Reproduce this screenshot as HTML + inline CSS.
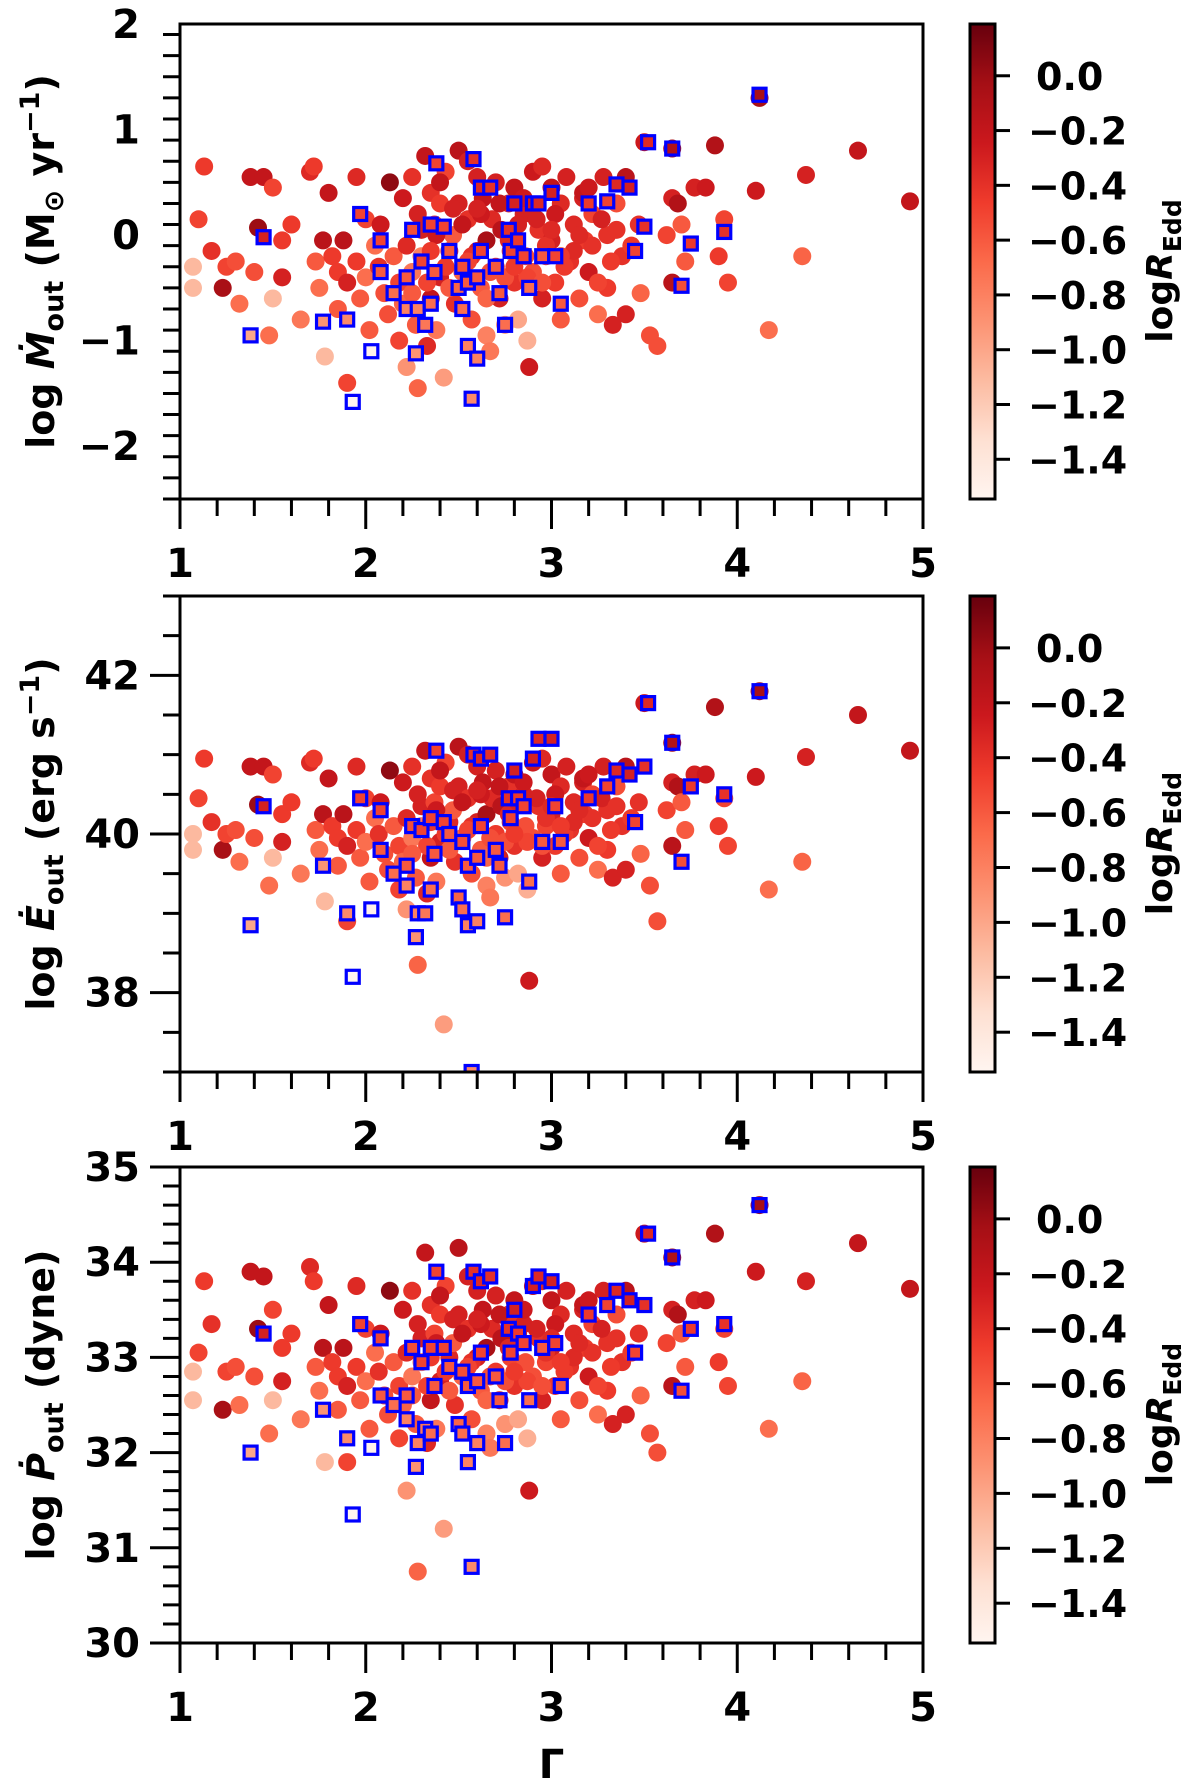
<!DOCTYPE html>
<html><head><meta charset="utf-8">
<style>
html,body{margin:0;padding:0;background:#fff;}
svg{display:block;font-family:"DejaVu Sans","Liberation Sans",sans-serif;}
</style></head>
<body>
<svg id="fig" width="1200" height="1784" viewBox="0 0 1200 1784" xmlns="http://www.w3.org/2000/svg"></svg>
<script>
// ---- data ----
const circGamma=[1.07,1.07,1.1,1.13,1.17,1.23,1.25,1.3,1.32,1.38,1.4,1.42,1.45,1.48,1.5,1.5,1.55,1.55,1.6,1.65,1.7,1.72,1.73,1.75,1.77,1.78,1.8,1.82,1.85,1.85,1.88,1.9,1.9,1.95,1.95,1.97,2.0,2.0,2.02,2.05,2.07,2.08,2.1,2.12,2.13,2.15,2.18,2.18,2.2,2.2,2.22,2.25,2.25,2.27,2.28,2.3,2.3,2.32,2.33,2.35,2.35,2.37,2.38,2.4,2.4,2.42,2.43,2.45,2.47,2.48,2.5,2.5,2.52,2.55,2.55,2.57,2.6,2.6,2.62,2.63,2.65,2.65,2.67,2.68,2.7,2.7,2.72,2.73,2.75,2.77,2.78,2.8,2.8,2.82,2.85,2.86,2.87,2.88,2.9,2.9,2.93,2.95,2.95,2.97,3.0,3.0,3.02,3.05,3.05,3.08,3.1,3.12,3.15,3.17,3.18,3.2,3.22,3.25,3.28,3.3,3.3,3.33,3.35,3.38,3.4,3.4,3.43,3.47,3.48,3.53,3.57,3.62,3.65,3.65,3.68,3.7,3.72,3.77,3.83,3.88,3.9,3.93,3.95,4.1,4.12,4.17,4.35,4.37,4.65,4.93,3.65,3.5,
2.22,2.28,2.33,2.38,2.43,2.47,2.52,2.57,2.62,2.67,2.72,2.77,2.82,2.87,2.92,2.97,3.02,3.07,3.12,3.17,3.22,3.27,3.32,2.25,2.35,2.45,2.55,2.65,2.75,2.85,2.95,3.05,3.15,3.25,3.35,2.4,2.6,2.8,3.0,3.2];
const circLogR=[-1.1,-1.1,-0.5,-0.45,-0.4,-0.05,-0.5,-0.55,-0.7,-0.2,-0.55,0.0,-0.2,-0.7,-0.5,-1.1,-0.45,-0.3,-0.45,-0.75,-0.35,-0.45,-0.6,-0.7,-0.15,-1.1,-0.2,-0.45,-0.45,-0.6,-0.15,-0.3,-0.5,-0.35,-0.45,-0.6,-0.7,-0.5,-0.6,-0.7,-0.4,-0.25,-0.55,-0.55,0.05,-0.6,-0.5,-0.5,-0.25,-0.65,-0.9,-0.4,-0.75,-0.6,-0.65,-0.3,-0.8,-0.2,-0.35,-0.4,-0.2,-0.5,-0.75,-0.45,-0.3,-0.95,-0.5,-0.35,-0.6,-0.4,-0.15,-0.3,-0.65,-0.4,-0.3,-0.55,-0.3,-0.3,-0.6,-0.2,-0.05,-0.8,-0.75,-0.35,-0.3,-0.45,-0.3,-0.15,-0.9,-0.4,-0.5,-0.2,-0.4,-1.0,-0.3,-0.55,-1.05,-0.25,-0.25,-0.55,-0.4,-0.35,-0.3,-0.5,-0.2,-0.3,-0.45,-0.35,-0.6,-0.3,-0.4,-0.35,-0.55,-0.3,-0.45,-0.25,-0.5,-0.7,-0.3,-0.4,-0.45,-0.3,-0.55,-0.4,-0.15,-0.3,-0.45,-0.4,-0.65,-0.55,-0.55,-0.5,-0.3,-0.15,-0.1,-0.6,-0.6,-0.3,-0.25,-0.1,-0.45,-0.5,-0.5,-0.25,-0.05,-0.7,-0.65,-0.3,-0.2,-0.2,-0.05,-0.25,
-0.35,-0.3,-0.5,-0.25,-0.45,-0.3,-0.2,-0.4,-0.25,-0.55,-0.2,-0.35,-0.3,-0.5,-0.3,-0.4,-0.25,-0.45,-0.35,-0.2,-0.4,-0.3,-0.45,-0.6,-0.45,-0.6,-0.5,-0.65,-0.55,-0.25,-0.55,-0.45,-0.35,-0.5,-0.4,-0.2,-0.3,-0.45,-0.35,-0.25];
const circMdot=[-0.3,-0.5,0.15,0.65,-0.15,-0.5,-0.3,-0.25,-0.65,0.55,-0.35,0.07,0.55,-0.95,0.45,-0.6,-0.05,-0.4,0.1,-0.8,0.6,0.65,-0.25,-0.5,-0.05,-1.15,0.4,-0.2,-0.35,-0.7,-0.05,-0.45,-1.4,0.55,-0.25,-0.6,-0.4,0.15,-0.9,-0.1,-0.3,0.1,-0.55,-0.75,0.5,-0.2,-1.0,-0.45,0.35,-0.65,-1.25,0.55,-0.35,-0.85,-1.45,0.05,-0.2,0.75,-1.05,0.4,-0.6,0.1,-0.9,0.3,-0.4,-1.35,0.6,-0.15,0.0,-0.65,0.8,0.3,-0.35,0.15,0.7,-0.8,0.55,-0.15,-0.5,0.35,-0.05,-0.95,-1.1,0.15,0.5,-0.3,-0.6,0.05,-0.85,0.3,-0.15,0.45,-0.45,-0.8,0.2,-0.2,-1.0,-1.25,0.6,-0.35,0.05,0.65,-0.6,-0.2,0.45,-0.05,-0.45,0.3,-0.8,0.55,-0.25,0.1,-0.6,0.35,-0.05,-0.35,0.2,-0.75,0.55,0.0,-0.5,-0.85,0.3,-0.2,0.55,-0.75,-0.1,0.1,-0.55,-0.95,-1.05,0.0,0.35,-0.45,0.3,0.1,-0.25,0.45,0.45,0.85,-0.2,0.15,-0.45,0.42,1.3,-0.9,-0.2,0.57,0.8,0.32,0.82,0.88,
-0.1,0.2,-0.45,0.0,-0.3,0.25,0.1,-0.2,0.2,-0.35,0.3,-0.05,0.1,-0.4,0.15,-0.1,0.2,-0.3,-0.15,0.4,-0.1,0.15,-0.25,-0.55,-0.15,-0.5,-0.25,-0.6,-0.4,0.35,-0.45,-0.2,0.0,-0.45,0.05,0.5,0.25,-0.3,0.05,0.45];
const circEdot=[40.0,39.8,40.45,40.95,40.15,39.8,40.0,40.05,39.65,40.85,39.95,40.37,40.85,39.35,40.75,39.7,40.25,39.9,40.4,39.5,40.9,40.95,40.05,39.8,40.25,39.15,40.7,40.1,39.95,39.6,40.25,39.85,38.9,40.85,40.05,39.7,39.9,40.45,39.4,40.2,40.0,40.4,39.75,39.55,40.8,40.1,39.3,39.85,40.65,39.65,39.05,40.85,39.95,39.45,38.35,40.35,40.1,41.05,39.25,40.7,39.7,40.4,39.4,40.6,39.9,37.6,40.9,40.15,40.3,39.65,41.1,40.6,39.95,40.45,41.0,39.5,40.85,40.15,39.8,40.65,40.25,39.35,39.2,40.45,40.8,40.0,39.7,40.35,39.45,40.6,40.15,40.75,39.85,39.5,40.5,40.1,39.3,38.15,40.9,39.95,40.35,40.95,39.7,40.1,40.75,40.25,39.85,40.6,39.5,40.85,40.05,40.4,39.7,40.65,40.25,39.95,40.5,39.55,40.85,40.3,39.8,39.45,40.6,40.1,40.85,39.55,40.2,40.4,39.75,39.35,38.9,40.3,40.65,39.85,40.6,40.4,40.05,40.75,40.75,41.6,40.1,40.45,39.85,40.72,41.8,39.3,39.65,40.97,41.5,41.05,41.15,41.65,
40.2,40.5,39.85,40.3,40.0,40.55,40.4,40.1,40.5,39.95,40.6,40.25,40.4,39.9,40.45,40.2,40.5,40.0,40.15,40.7,40.2,40.45,40.05,39.75,40.15,39.8,40.05,39.7,39.9,40.65,39.85,40.1,40.3,39.85,40.35,40.8,40.55,40.0,40.35,40.75];
const circPdot=[32.85,32.55,33.05,33.8,33.35,32.45,32.85,32.9,32.5,33.9,32.8,33.3,33.85,32.2,33.5,32.55,33.1,32.75,33.25,32.35,33.95,33.8,32.9,32.65,33.1,31.9,33.55,32.95,32.8,32.45,33.1,32.7,31.9,33.75,32.9,32.55,32.75,33.3,32.25,33.05,32.85,33.25,32.6,32.4,33.7,32.95,32.15,32.7,33.5,32.5,31.6,33.7,32.8,32.3,30.75,33.2,32.95,34.1,32.1,33.55,32.55,33.25,32.25,33.45,32.75,31.2,33.75,33.0,33.15,32.5,34.15,33.45,32.8,33.3,33.85,32.35,33.7,33.0,32.65,33.5,33.1,32.2,32.05,33.3,33.65,32.85,32.55,33.2,32.3,33.45,33.0,33.6,32.7,32.35,33.35,32.95,32.15,31.6,33.75,32.8,33.2,33.8,32.55,32.95,33.6,33.1,32.7,33.45,32.35,33.7,32.9,33.25,32.55,33.5,33.1,32.8,33.35,32.4,33.7,33.15,32.65,32.3,33.45,32.95,33.7,32.4,33.05,33.25,32.6,32.2,32.0,33.15,33.5,32.7,33.45,33.25,32.9,33.6,33.6,34.3,32.95,33.3,32.7,33.9,34.6,32.25,32.75,33.8,34.2,33.72,34.05,34.3,
33.05,33.35,32.7,33.15,32.85,33.4,33.25,32.95,33.35,32.8,33.45,33.1,33.25,32.75,33.3,33.05,33.35,32.85,33.0,33.55,33.05,33.3,32.9,32.6,33.0,32.65,32.9,32.55,32.75,33.5,32.7,32.95,33.15,32.7,33.2,33.65,33.4,32.85,33.2,33.6];

const sqGamma=[1.38,1.45,1.77,1.9,1.93,1.97,2.03,2.08,2.08,2.15,2.22,2.22,2.25,2.27,2.28,2.3,2.32,2.35,2.35,2.37,2.38,2.42,2.45,2.5,2.52,2.52,2.55,2.55,2.57,2.58,2.6,2.6,2.62,2.62,2.67,2.7,2.72,2.75,2.77,2.78,2.8,2.82,2.85,2.88,2.9,2.93,2.95,3.0,3.02,3.05,3.2,3.3,3.35,3.42,3.45,3.5,3.52,3.65,3.7,3.75,3.93,4.12];
const sqLogR=[-1.0,-0.3,-0.9,-0.85,-1.55,-0.5,-1.5,-0.6,-0.5,-0.7,-0.8,-0.6,-0.55,-0.9,-0.8,-0.5,-0.75,-0.5,-0.7,-0.6,-0.5,-0.5,-0.6,-0.65,-0.55,-0.7,-0.8,-0.6,-0.85,-0.4,-0.6,-0.8,-0.35,-0.5,-0.4,-0.6,-0.6,-0.7,-0.4,-0.5,-0.3,-0.45,-0.5,-0.7,-0.3,-0.35,-0.6,-0.3,-0.5,-0.6,-0.45,-0.5,-0.35,-0.3,-0.5,-0.4,-0.35,-0.1,-0.55,-0.45,-0.4,-0.05];
const sqMdot=[-0.95,-0.02,-0.82,-0.8,-1.58,0.2,-1.1,-0.35,-0.05,-0.55,-0.7,-0.4,0.05,-1.12,-0.7,-0.25,-0.85,0.1,-0.65,-0.35,0.68,0.08,-0.15,-0.5,-0.3,-0.7,-1.05,-0.45,-1.55,0.72,-0.4,-1.17,0.45,-0.15,0.45,-0.3,-0.55,-0.85,0.05,-0.15,0.3,-0.05,-0.2,-0.5,0.3,0.3,-0.2,0.4,-0.2,-0.65,0.3,0.32,0.48,0.45,-0.15,0.08,0.88,0.82,-0.48,-0.08,0.03,1.33];
const sqEdot=[38.85,40.35,39.6,39.0,38.2,40.45,39.05,39.8,40.3,39.5,39.35,39.6,40.1,38.7,39.0,40.05,39.0,40.2,39.3,39.75,41.05,40.15,40.0,39.2,39.9,39.05,38.85,39.6,37.0,41.0,39.7,38.9,40.95,40.1,41.0,39.8,39.6,38.95,40.45,40.2,40.8,40.45,40.35,39.4,40.95,41.2,39.9,41.2,40.35,39.9,40.45,40.6,40.8,40.75,40.15,40.85,41.65,41.15,39.65,40.6,40.5,41.8];
const sqPdot=[32.0,33.25,32.45,32.15,31.35,33.35,32.05,32.6,33.2,32.5,32.35,32.6,33.1,31.85,32.1,32.95,32.25,33.1,32.2,32.7,33.9,33.1,32.9,32.3,32.85,32.2,31.9,32.7,30.8,33.9,32.75,32.1,33.8,33.05,33.85,32.8,32.55,32.1,33.3,33.05,33.5,33.25,33.15,32.55,33.75,33.85,33.1,33.8,33.15,32.7,33.45,33.55,33.7,33.6,33.05,33.55,34.3,34.05,32.65,33.3,33.35,34.6];

const xTicks=[1,2,3,4,5];
const y1Ticks=[-2,-1,0,1,2];
const y2Ticks=[38,40,42];
const y3Ticks=[30,31,32,33,34,35];
const cbTicks=[0.0,-0.2,-0.4,-0.6,-0.8,-1.0,-1.2,-1.4];
const cbRange=[-1.545,0.189];

// ---- helpers ----
const NS='http://www.w3.org/2000/svg';
const svg=document.getElementById('fig');
function el(tag,attrs,parent){const e=document.createElementNS(NS,tag);for(const k in attrs)e.setAttribute(k,attrs[k]);(parent||svg).appendChild(e);return e;}
const stops=[[0,[255,245,240]],[0.125,[254,224,210]],[0.25,[252,187,161]],[0.375,[252,146,114]],[0.5,[251,106,74]],[0.625,[239,59,44]],[0.75,[203,24,29]],[0.875,[165,15,21]],[1,[103,0,13]]];
function cmap(v){let t=(v-cbRange[0])/(cbRange[1]-cbRange[0]);t=Math.max(0,Math.min(1,t));
 for(let i=1;i<stops.length;i++){if(t<=stops[i][0]){const a=stops[i-1],b=stops[i];const f=(t-a[0])/(b[0]-a[0]);const c=a[1].map((x,j)=>Math.round(x+(b[1][j]-x)*f));return 'rgb('+c.join(',')+')';}}return 'rgb(103,0,13)';}

const X0=180,X1=923,G0=1,G1=5;
const sx=g=>X0+(g-G0)/(G1-G0)*(X1-X0);

const panels=[
 {name:'mdot',top:24,bot:499,ymin:-2.5,ymax:2,ticks:y1Ticks,minor:0.2,c:circMdot,s:sqMdot},
 {name:'edot',top:596,bot:1072,ymin:37,ymax:43,ticks:y2Ticks,minor:0.5,c:circEdot,s:sqEdot},
 {name:'pdot',top:1167,bot:1643,ymin:30,ymax:35,ticks:y3Ticks,minor:0.2,c:circPdot,s:sqPdot}
];

panels.forEach((p,pi)=>{
 const g=el('g',{});
 
 
 const sy=v=>p.bot-(v-p.ymin)/(p.ymax-p.ymin)*(p.bot-p.top);
 const cp=el('clipPath',{id:'clip'+pi},g);
 el('rect',{x:X0,y:p.top,width:X1-X0,height:p.bot-p.top},cp);
 const pts=el('g',{'clip-path':'url(#clip'+pi+')'},g);
 
 
 const n=Math.min(circGamma.length,circLogR.length,p.c.length);
 for(let i=0;i<n;i++){
  const c=el('circle',{cx:sx(circGamma[i]),cy:sy(p.c[i]),r:9,fill:cmap(circLogR[i])},pts);
  
  
 }
 const m=Math.min(sqGamma.length,sqLogR.length,p.s.length);
 for(let i=0;i<m;i++){
  const r=el('rect',{x:sx(sqGamma[i])-6.5,y:sy(p.s[i])-6.5,width:13,height:13,fill:cmap(sqLogR[i]),stroke:'#0000ff','stroke-width':3.2},pts);
  
  
 }
 const fr=el('rect',{x:X0,y:p.top,width:X1-X0,height:p.bot-p.top,fill:'none',stroke:'#000','stroke-width':3},g);
 
 
 for(let v=p.ymin;v<=p.ymax+1e-6;v+=p.minor){
  const isMaj=p.ticks.some(t=>Math.abs(t-v)<1e-6);
  el('line',{x1:X0-(isMaj?30:17),x2:X0,y1:sy(v),y2:sy(v),stroke:'#000','stroke-width':3},g);
 }
 p.ticks.forEach(t=>{
  const tx=el('text',{x:X0-40,y:sy(t)+14,'text-anchor':'end','font-size':40,'font-weight':'bold'},g);
  tx.textContent=(t<0?'\u2212':'')+Math.abs(t);
  
  
 });
 for(let v=G0;v<=G1+1e-6;v+=0.2){
  const isMaj=xTicks.some(t=>Math.abs(t-v)<1e-6);
  el('line',{x1:sx(v),x2:sx(v),y1:p.bot,y2:p.bot+(isMaj?30:17),stroke:'#000','stroke-width':3},g);
 }
 xTicks.forEach(t=>{
  const tx=el('text',{x:sx(t),y:p.bot+78,'text-anchor':'middle','font-size':40,'font-weight':'bold'},g);
  tx.textContent=t;
  
  
 });
 const cy=(p.top+p.bot)/2;
 const yl=el('text',{transform:'translate(54,'+cy+') rotate(-90)','text-anchor':'middle','font-size':38,'font-weight':'bold'},g);
 
 
 if(p.name==='mdot') yl.innerHTML='log <tspan font-style="italic">Ṁ</tspan><tspan font-size="27" dy="9">out</tspan><tspan dy="-9"> (M</tspan><tspan font-size="27" dy="9">⊙</tspan><tspan dy="-9"> yr</tspan><tspan font-size="27" dy="-15">−1</tspan><tspan dy="15">)</tspan>';
 else if(p.name==='edot') yl.innerHTML='log <tspan font-style="italic">Ė</tspan><tspan font-size="27" dy="9">out</tspan><tspan dy="-9"> (erg s</tspan><tspan font-size="27" dy="-15">−1</tspan><tspan dy="15">)</tspan>';
 else yl.innerHTML='log <tspan font-style="italic">Ṗ</tspan><tspan font-size="27" dy="9">out</tspan><tspan dy="-9"> (dyne)</tspan>';
 const cb=el('g',{},g);
 
 
 const CX0=970,CX1=995;
 const cby=v=>p.bot-(v-cbRange[0])/(cbRange[1]-cbRange[0])*(p.bot-p.top);
 const gid='grad'+pi;
 const lg=el('linearGradient',{id:gid,x1:0,y1:1,x2:0,y2:0},cb);
 stops.forEach(s=>el('stop',{offset:s[0],'stop-color':'rgb('+s[1].join(',')+')'},lg));
 el('rect',{x:CX0,y:p.top,width:CX1-CX0,height:p.bot-p.top,fill:'url(#'+gid+')',stroke:'#000','stroke-width':3},cb);
 cbTicks.forEach(t=>{
  el('line',{x1:CX1,x2:CX1+15,y1:cby(t),y2:cby(t),stroke:'#000','stroke-width':3},cb);
  const tx=el('text',{x:1028,y:cby(t)+14,'font-size':38,'font-weight':'bold'},cb);
  tx.textContent=(t<0?'\u2212':'')+Math.abs(t).toFixed(1);
  if(t===0) tx.setAttribute('x',1036);
  
  
 });
 const cl=el('text',{transform:'translate(1172,'+(p.top+(p.bot-p.top)*0.52)+') rotate(-90)','text-anchor':'middle','font-size':36,'font-weight':'bold'},cb);
 cl.innerHTML='log<tspan font-style="italic">R</tspan><tspan font-size="25" dy="9">Edd</tspan>';
 
 
});
const xl=el('text',{x:sx(3),y:1778,'text-anchor':'middle','font-size':40,'font-weight':'bold'});
xl.textContent='Γ';


</script>
</body></html>
